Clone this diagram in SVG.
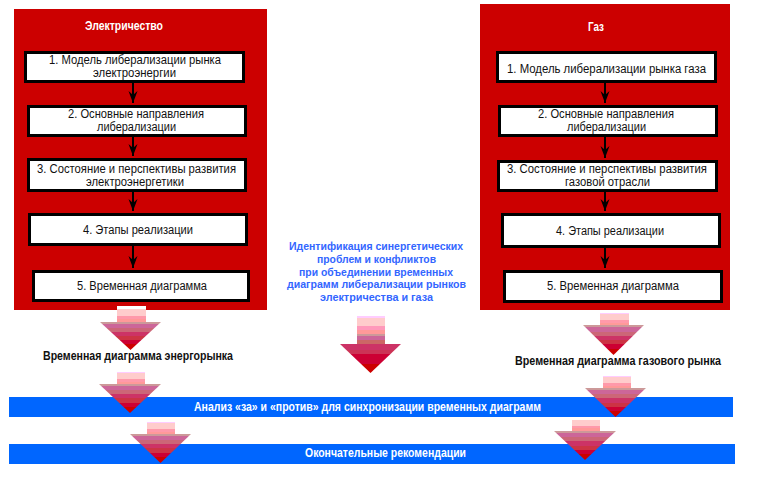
<svg xmlns="http://www.w3.org/2000/svg" width="771" height="477" viewBox="0 0 771 477">
<defs>
<style>
.panel{fill:#CC0000}
.box{fill:#FFFFFF;stroke:#000000;stroke-width:3}
.bt{font-family:"Liberation Sans",Arial,sans-serif;font-size:12.5px;fill:#111111}
.title{font-family:"Liberation Sans",Arial,sans-serif;font-size:12.5px;font-weight:bold;fill:#FFFFFF}
.lbl{font-family:"Liberation Sans",Arial,sans-serif;font-size:12.5px;font-weight:bold;fill:#111111}
.blue{font-family:"Liberation Sans",Arial,sans-serif;font-size:11.5px;font-weight:bold;fill:#3366FF}
.bar{fill:#0066FF}
.bart{font-family:"Liberation Sans",Arial,sans-serif;font-size:12.5px;font-weight:bold;fill:#FFFFFF}
.conn{stroke:#000000;stroke-width:2;fill:none}
</style>
<marker id="ah" markerUnits="userSpaceOnUse" markerWidth="13" markerHeight="10" refX="12" refY="5" orient="auto" viewBox="0 0 13 10">
<path d="M0,0.5 L4,5 L0,9.5 L12,5 Z" fill="#000000"/>
</marker>
<linearGradient id="shaft" x1="0" y1="0" x2="0" y2="1">
<stop offset="0" stop-color="#FFCCFF"/><stop offset="0.12" stop-color="#FFCCFF"/>
<stop offset="0.12" stop-color="#FFCCCC"/><stop offset="0.6" stop-color="#FFCCCC"/>
<stop offset="0.6" stop-color="#FF99AA"/><stop offset="0.8" stop-color="#FF99AA"/>
<stop offset="0.8" stop-color="#FF9999"/><stop offset="1" stop-color="#FF9999"/>
</linearGradient>
<linearGradient id="shaft0" x1="0" y1="0" x2="0" y2="1">
<stop offset="0" stop-color="#FFFFFF"/><stop offset="0.2" stop-color="#FFFFFF"/>
<stop offset="0.2" stop-color="#FFCCCC"/><stop offset="0.62" stop-color="#FFCCCC"/>
<stop offset="0.62" stop-color="#FF99AA"/><stop offset="0.8" stop-color="#FF99AA"/>
<stop offset="0.8" stop-color="#FF9999"/><stop offset="1" stop-color="#FF9999"/>
</linearGradient>
<linearGradient id="shaftM" x1="0" y1="0" x2="0" y2="1">
<stop offset="0" stop-color="#FFCCFF"/><stop offset="0.07" stop-color="#FFCCFF"/>
<stop offset="0.07" stop-color="#FFCCCC"/><stop offset="0.36" stop-color="#FFCCCC"/>
<stop offset="0.36" stop-color="#FF99BB"/><stop offset="0.5" stop-color="#FF99BB"/>
<stop offset="0.5" stop-color="#FF9999"/><stop offset="0.64" stop-color="#FF9999"/>
<stop offset="0.64" stop-color="#CC9999"/><stop offset="0.72" stop-color="#CC9999"/>
<stop offset="0.72" stop-color="#CC6699"/><stop offset="0.86" stop-color="#CC6699"/>
<stop offset="0.86" stop-color="#CC6666"/><stop offset="1" stop-color="#CC6666"/>
</linearGradient>
<linearGradient id="head" x1="0" y1="0" x2="0" y2="1">
<stop offset="0" stop-color="#CC9999"/><stop offset="0.08" stop-color="#CC9999"/>
<stop offset="0.08" stop-color="#CC6699"/><stop offset="0.22" stop-color="#CC6699"/>
<stop offset="0.22" stop-color="#CC6677"/><stop offset="0.36" stop-color="#CC6677"/>
<stop offset="0.36" stop-color="#CC3366"/><stop offset="0.5" stop-color="#CC3366"/>
<stop offset="0.5" stop-color="#CC3344"/><stop offset="0.64" stop-color="#CC3344"/>
<stop offset="0.64" stop-color="#CC0033"/><stop offset="0.8" stop-color="#CC0033"/>
<stop offset="0.8" stop-color="#CC0000"/><stop offset="1" stop-color="#CC0000"/>
</linearGradient>
<linearGradient id="headM" x1="0" y1="0" x2="0" y2="1">
<stop offset="0" stop-color="#CC3366"/><stop offset="0.2" stop-color="#CC3366"/>
<stop offset="0.2" stop-color="#CC3355"/><stop offset="0.35" stop-color="#CC3355"/>
<stop offset="0.35" stop-color="#CC0033"/><stop offset="0.7" stop-color="#CC0033"/>
<stop offset="0.7" stop-color="#CC0000"/><stop offset="1" stop-color="#CC0000"/>
</linearGradient>
</defs>
<rect width="771" height="477" fill="#FFFFFF"/>

<g id="panel-electricity">
<rect class="panel" x="14" y="9" width="253" height="301"/>
<text class="title" x="85" y="30" textLength="78" lengthAdjust="spacingAndGlyphs">Электричество</text>
</g>
<g id="panel-gas">
<rect class="panel" x="480" y="4" width="250" height="306"/>
<text class="title" x="588" y="31" textLength="16" lengthAdjust="spacingAndGlyphs">Газ</text>
</g>

<g id="connectors">
<line class="conn" x1="133" y1="83" x2="133" y2="103" marker-end="url(#ah)"/>
<line class="conn" x1="133" y1="137" x2="133" y2="156" marker-end="url(#ah)"/>
<line class="conn" x1="133" y1="192" x2="133" y2="211" marker-end="url(#ah)"/>
<line class="conn" x1="133" y1="246" x2="133" y2="268" marker-end="url(#ah)"/>
<line class="conn" x1="605" y1="83" x2="605" y2="103" marker-end="url(#ah)"/>
<line class="conn" x1="605" y1="137" x2="605" y2="158" marker-end="url(#ah)"/>
<line class="conn" x1="605" y1="192" x2="605" y2="211" marker-end="url(#ah)"/>
<line class="conn" x1="605" y1="248" x2="605" y2="268" marker-end="url(#ah)"/>
</g>

<g id="e1">
<rect class="box" x="25.5" y="52.5" width="218" height="29"/>
<text class="bt" x="49" y="64" textLength="172" lengthAdjust="spacingAndGlyphs">1. Модель либерализации рынка</text>
<text class="bt" x="93" y="77" textLength="83" lengthAdjust="spacingAndGlyphs">электроэнергии</text>
</g>
<g id="e2">
<rect class="box" x="28.5" y="106.5" width="217" height="29"/>
<text class="bt" x="68" y="118" textLength="136" lengthAdjust="spacingAndGlyphs">2. Основные направления</text>
<text class="bt" x="97" y="131" textLength="79" lengthAdjust="spacingAndGlyphs">либерализации</text>
</g>
<g id="e3">
<rect class="box" x="28.5" y="159.5" width="217" height="31"/>
<text class="bt" x="37" y="173" textLength="199" lengthAdjust="spacingAndGlyphs">3. Состояние и перспективы развития</text>
<text class="bt" x="86" y="186" textLength="98" lengthAdjust="spacingAndGlyphs">электроэнергетики</text>
</g>
<g id="e4">
<rect class="box" x="29.5" y="214.5" width="217" height="30"/>
<text class="bt" x="83" y="234" textLength="110" lengthAdjust="spacingAndGlyphs">4. Этапы реализации</text>
</g>
<g id="e5">
<rect class="box" x="33.5" y="271.5" width="215" height="29"/>
<text class="bt" x="77" y="290" textLength="130" lengthAdjust="spacingAndGlyphs">5. Временная диаграмма</text>
</g>

<g id="g1">
<rect class="box" x="497.5" y="52.5" width="218" height="29"/>
<text class="bt" x="507" y="73" textLength="199" lengthAdjust="spacingAndGlyphs">1. Модель либерализации рынка газа</text>
</g>
<g id="g2">
<rect class="box" x="499.5" y="106.5" width="217" height="29"/>
<text class="bt" x="538" y="118" textLength="136" lengthAdjust="spacingAndGlyphs">2. Основные направления</text>
<text class="bt" x="567" y="131" textLength="79" lengthAdjust="spacingAndGlyphs">либерализации</text>
</g>
<g id="g3">
<rect class="box" x="498.5" y="161.5" width="218" height="29"/>
<text class="bt" x="507" y="173" textLength="200" lengthAdjust="spacingAndGlyphs">3. Состояние и перспективы развития</text>
<text class="bt" x="565" y="186" textLength="85" lengthAdjust="spacingAndGlyphs">газовой отрасли</text>
</g>
<g id="g4">
<rect class="box" x="502.5" y="214.5" width="217" height="32"/>
<text class="bt" x="556" y="235" textLength="108" lengthAdjust="spacingAndGlyphs">4. Этапы реализации</text>
</g>
<g id="g5">
<rect class="box" x="504.5" y="271.5" width="217" height="30"/>
<text class="bt" x="547" y="290" textLength="132" lengthAdjust="spacingAndGlyphs">5. Временная диаграмма</text>
</g>

<g id="synergy-note">
<text class="blue" x="289" y="250" textLength="174" lengthAdjust="spacingAndGlyphs">Идентификация синергетических</text>
<text class="blue" x="317" y="263" textLength="119" lengthAdjust="spacingAndGlyphs">проблем и конфликтов</text>
<text class="blue" x="299" y="275.5" textLength="154" lengthAdjust="spacingAndGlyphs">при объединении временных</text>
<text class="blue" x="287" y="288" textLength="179" lengthAdjust="spacingAndGlyphs">диаграмм либерализации рынков</text>
<text class="blue" x="320" y="301" textLength="113" lengthAdjust="spacingAndGlyphs">электричества и газа</text>
</g>

<g id="label-electricity">
<text class="lbl" x="43" y="360" textLength="190" lengthAdjust="spacingAndGlyphs">Временная диаграмма энергорынка</text>
</g>
<g id="label-gas">
<text class="lbl" x="515" y="365" textLength="206" lengthAdjust="spacingAndGlyphs">Временная диаграмма газового рынка</text>
</g>

<g id="bar-analysis">
<rect class="bar" x="9" y="397" width="724" height="20"/>
<text class="bart" x="194" y="411" textLength="347" lengthAdjust="spacingAndGlyphs">Анализ «за» и «против» для синхронизации временных диаграмм</text>
</g>
<g id="bar-final">
<rect class="bar" x="9" y="444" width="726" height="20"/>
<text class="bart" x="305" y="457" textLength="161" lengthAdjust="spacingAndGlyphs">Окончательные рекомендации</text>
</g>

<g id="flow-arrows">
<g id="fa1">
<rect x="117" y="306" width="29" height="16" fill="url(#shaft0)"/>
<polygon points="100,322 161,322 130.5,350" fill="url(#head)"/>
</g>
<g id="fa2">
<rect x="117" y="372" width="28" height="12" fill="url(#shaft)"/>
<polygon points="99,384 161,384 130,413" fill="url(#head)"/>
</g>
<g id="fa3">
<rect x="147" y="422" width="28" height="12" fill="url(#shaft)"/>
<polygon points="130,434 191,434 160.5,463" fill="url(#head)"/>
</g>
<g id="fa4">
<rect x="357" y="316" width="28" height="28" fill="url(#shaftM)"/>
<polygon points="340,344 401,344 370.5,373" fill="url(#headM)"/>
</g>
<g id="fa5">
<rect x="600" y="313" width="29" height="12" fill="url(#shaft)"/>
<polygon points="583,325 644,325 613.5,355" fill="url(#head)"/>
</g>
<g id="fa6">
<rect x="603" y="376" width="28" height="12" fill="url(#shaft)"/>
<polygon points="585,388 646,388 615.5,417" fill="url(#head)"/>
</g>
<g id="fa7">
<rect x="572" y="417" width="28" height="14" fill="url(#shaft0)"/>
<polygon points="554,431 616,431 585,460" fill="url(#head)"/>
</g>
</g>
</svg>
